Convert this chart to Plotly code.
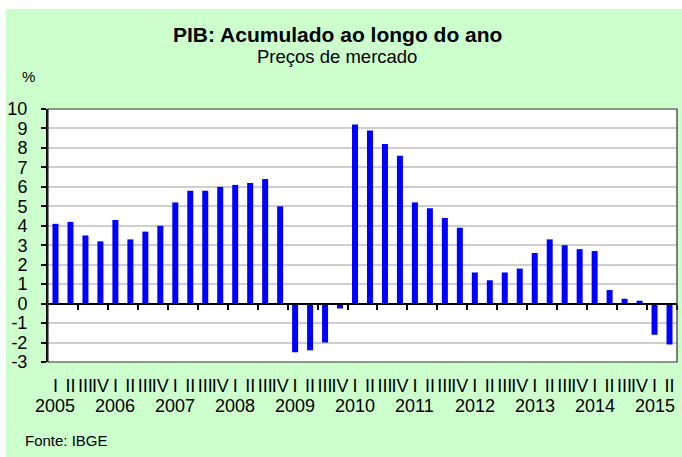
import plotly.graph_objects as go

# ---- data ----
years = ["2005", "2006", "2007", "2008", "2009", "2010", "2011", "2012", "2013", "2014", "2015"]
quarter_names = ["I", "II", "III", "IV"]
quarter_labels = [q for y in years[:-1] for q in quarter_names] + ["I", "II"]
values = [
    4.1, 4.2, 3.5, 3.2,      # 2005
    4.3, 3.3, 3.7, 4.0,      # 2006
    5.2, 5.8, 5.8, 6.0,      # 2007
    6.1, 6.2, 6.4, 5.0,      # 2008
    -2.5, -2.4, -2.0, -0.25, # 2009
    9.2, 8.9, 8.2, 7.6,      # 2010
    5.2, 4.9, 4.4, 3.9,      # 2011
    1.6, 1.2, 1.6, 1.8,      # 2012
    2.6, 3.3, 3.0, 2.8,      # 2013
    2.7, 0.7, 0.25, 0.15,    # 2014
    -1.6, -2.1,              # 2015
]
y_ticks = list(range(-3, 11))

FONT = "Liberation Sans, Arial, sans-serif"
n = len(values)
idx = list(range(n))
y_min, y_max = -3, 10

# plot area geometry (px)
W, H = 682, 457
L, R, T, B = 48, 677, 109, 362
pw, ph = R - L, B - T

def px_x(p):
    return (p - L) / pw

def px_y(p):
    return (B - p) / ph

fig = go.Figure()
fig.add_trace(go.Bar(
    x=idx, y=values, width=0.4,
    marker=dict(color="#0000FF", line=dict(width=0)),
    xaxis="x", yaxis="y", showlegend=False, hoverinfo="y",
))
# invisible trace to carry the zero-crossing category axis
fig.add_trace(go.Scatter(x=[None], y=[None], xaxis="x2", yaxis="y",
                         showlegend=False, hoverinfo="skip"))

fig.update_layout(
    width=W, height=H,
    margin=dict(l=L, r=W - R, t=T, b=H - B, pad=0),
    paper_bgcolor="white",
    plot_bgcolor="rgba(0,0,0,0)",
    font=dict(family=FONT, color="black", size=17),
    bargap=0.6,
    xaxis=dict(
        range=[-0.5, n - 0.5], tickmode="array", tickvals=idx, ticktext=quarter_labels,
        tickangle=0, ticks="", showgrid=False, zeroline=False,
        showline=False, tickfont=dict(size=18, family=FONT, color="black"),
        ticklabelstandoff=11, automargin=False,
    ),
    xaxis2=dict(
        range=[-0.5, n - 0.5], overlaying="x", anchor="free",
        position=(0 - y_min) / (y_max - y_min),
        showline=True, linecolor="black", linewidth=2,
        ticks="outside", ticklen=5, tickwidth=2, tickcolor="black",
        tickmode="array", tickvals=[i + 1.5 for i in range(0, n, 2)],
        showticklabels=False, showgrid=False, zeroline=False,
    ),
    yaxis=dict(
        range=[y_min, y_max], tickmode="array", tickvals=y_ticks,
        ticktext=[str(v) for v in y_ticks],
        ticks="outside", ticklen=5, tickwidth=2, tickcolor="black",
        showline=True, linecolor="black", linewidth=2,
        showgrid=True, gridcolor="#CFCFCF", gridwidth=1.5,
        zeroline=False, tickfont=dict(size=18, family=FONT, color="black"),
        ticklabelstandoff=10, automargin=False,
    ),
    shapes=[
        dict(type="rect", xref="paper", yref="paper",
             x0=px_x(6), x1=px_x(W + 2), y0=px_y(H + 2), y1=px_y(9),
             fillcolor="#CCFFCC", line=dict(width=0), layer="below"),
        dict(type="rect", xref="paper", yref="paper",
             x0=0, x1=1, y0=0, y1=1,
             fillcolor="white", line=dict(width=0), layer="below"),
        dict(type="rect", xref="paper", yref="paper",
             x0=0, x1=1, y0=0, y1=1,
             fillcolor="rgba(0,0,0,0)", line=dict(width=1.2, color="#303030"), layer="above"),
    ],
)

annotations = [
    dict(text="<b>PIB: Acumulado ao longo do ano</b>", x=px_x(337), y=px_y(35),
         font=dict(size=21, family=FONT, color="black")),
    dict(text="Preços de mercado", x=px_x(337), y=px_y(56),
         font=dict(size=18.5, family=FONT, color="black")),
    dict(text="%", x=px_x(28), y=px_y(76),
         font=dict(size=15, family=FONT, color="black")),
    dict(text="Fonte: IBGE", x=px_x(23), y=px_y(440), xanchor="left",
         font=dict(size=15, family=FONT, color="black")),
]
for k, yr in enumerate(years):
    annotations.append(dict(text=yr, x=4 * k, xref="x", y=px_y(406), yref="paper",
                            font=dict(size=18, family=FONT, color="black")))
for a in annotations:
    a.setdefault("xref", "paper")
    a.setdefault("yref", "paper")
    a.setdefault("xanchor", "center")
    a.setdefault("yanchor", "middle")
    a["showarrow"] = False
fig.update_layout(annotations=annotations)

fig.write_html(
    "out.html",
    config={"displayModeBar": False},
    post_script="document.body.style.margin='0';document.body.style.overflow='hidden';",
)
